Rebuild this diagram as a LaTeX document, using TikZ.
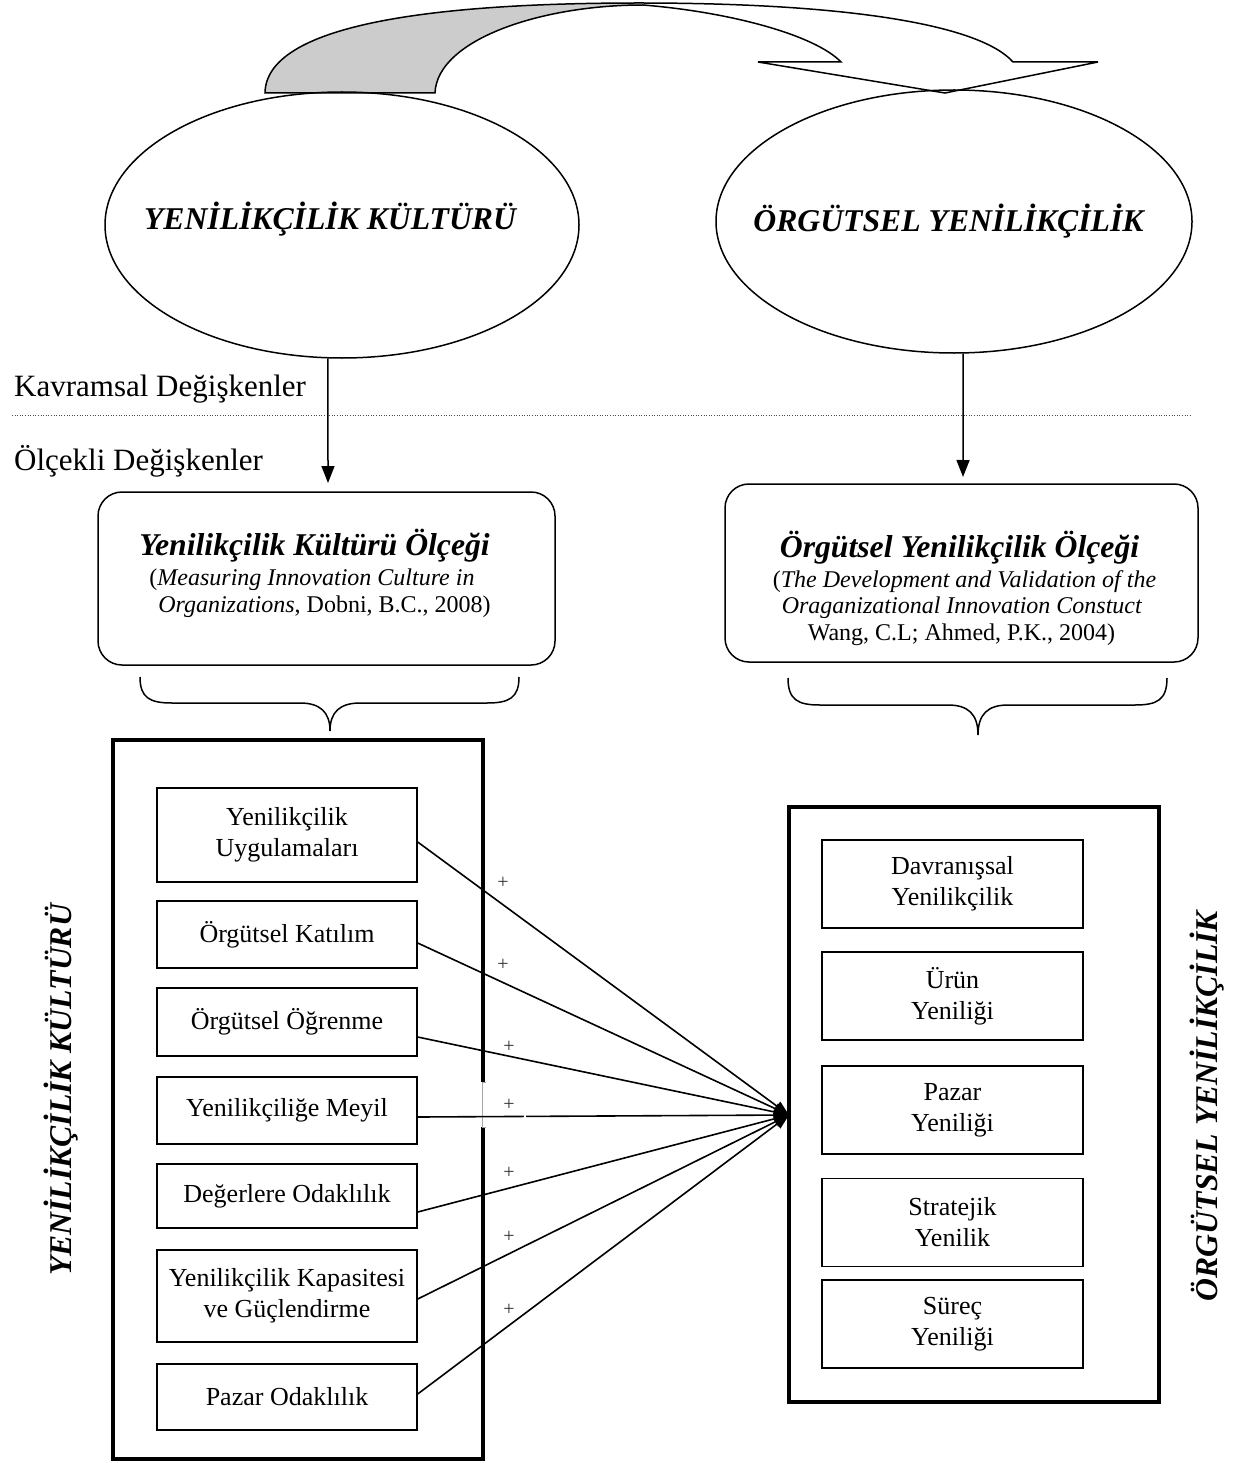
\documentclass[tikz,border=0pt]{standalone}
\usepackage{fontspec}
\setmainfont{Liberation Serif}
\usetikzlibrary{arrows.meta,shapes.geometric}
\begin{document}
\begin{tikzpicture}[x=1pt,y=-1pt,
  ell/.style={draw,ellipse,line width=1.5pt,inner sep=0pt},
  rbox/.style={draw,rounded corners=24pt,line width=1.5pt,inner sep=0pt},
  bigbox/.style={draw,line width=3.5pt,inner sep=0pt},
  item/.style={draw,line width=1.4pt,inner sep=0pt,minimum width=260pt,align=center,font=\fontsize{26}{31}\selectfont},
  conn/.style={line width=1.6pt,-{Triangle[width=11pt,length=15pt]}},
  down/.style={line width=1.5pt,-{Triangle[width=13pt,length=17pt]}},
  plus/.style={font=\fontsize{20}{20}\selectfont,text=black!80,inner sep=0pt},
  big/.style={font=\fontsize{31.7}{36}\selectfont\bfseries\itshape,inner sep=0pt},
  lbl/.style={font=\fontsize{31}{34}\selectfont,anchor=base west,inner sep=0pt},
  ttl/.style={font=\fontsize{31.7}{36}\selectfont\bfseries\itshape,anchor=base,inner sep=0pt},
  cite/.style={font=\fontsize{24}{27}\selectfont,anchor=base,inner sep=0pt},
  bracepath/.style={line width=1.5pt}
]
\useasboundingbox (0,0) rectangle (1236,1463);

% curved arrow on top
\fill[black!20] (265,93) .. controls (266,25) and (430,3) .. (639,3) -- (643,5) .. controls (540,5) and (437,40) .. (435,93) -- cycle;
\draw[line width=1.5pt,line join=miter] (265,93) .. controls (266,25) and (430,3) .. (639,3)
  .. controls (850,3) and (980,25) .. (1013,62) -- (1098,62) -- (945,93) -- (758,62) -- (841,62)
  .. controls (815,35) and (730,12) .. (643,5) .. controls (540,5) and (437,40) .. (435,93) -- cycle;

% ellipses
\node[ell,minimum width=474pt,minimum height=266pt] (e1) at (342,225) {};
\node[ell,minimum width=476pt,minimum height=263pt] (e2) at (954,221.5) {};
\node[big,anchor=base] (e1t) at (330,230) {YENİLİKÇİLİK KÜLTÜRÜ};
\node[big,anchor=base] (e2t) at (948.5,232) {ÖRGÜTSEL YENİLİKÇİLİK};

% level labels and separator
\node[lbl] (kav) at (14,396) {Kavramsal Değişkenler};
\node[lbl] (olc) at (14,470) {Ölçekli Değişkenler};
\coordinate (dotL) at (12,415);
\coordinate (dotR) at (1192,415);
\draw[line width=1pt,black!70,dash pattern=on 1pt off 1.6pt] (dotL) -- (dotR);

% down arrows
\coordinate (a1end) at (328,483);
\coordinate (a2end) at (963,477);
\draw[down] (e1.264) -- (a1end);
\draw[down] (e2.274) -- (a2end);

% rounded boxes
\node[rbox,minimum width=457pt,minimum height=173pt] (lbox) at (326.5,578.5) {};
\node[rbox,minimum width=473pt,minimum height=178pt] (rbox) at (961.5,573) {};
\node[ttl] (l1) at (314.5,555) {Yenilikçilik Kültürü Ölçeği};
\node[cite] (l2) at (312,585) {(\textit{Measuring Innovation Culture in}};
\node[cite] (l3) at (324.5,612) {\textit{Organizations}, Dobni, B.C., 2008)};
\node[ttl] (r1t) at (959.5,557) {Örgütsel Yenilikçilik Ölçeği};
\node[cite] (r2t) at (964.5,587) {(\textit{The Development and Validation of the}};
\node[cite] (r3t) at (962,613) {\textit{Oraganizational Innovation Constuct}};
\node[cite] (r4t) at (961.5,640) {Wang, C.L; Ahmed, P.K., 2004)};

% braces
\draw[bracepath] (140,677) .. controls (140,698) and (150,703) .. (172,703) -- (300,703)
  .. controls (320,703) and (330,712) .. (330,731) .. controls (330,712) and (340,703) .. (360,703)
  -- (487,703) .. controls (509,703) and (519,698) .. (519,677);
\draw[bracepath] (788,678) .. controls (788,700) and (798,705) .. (820,705) -- (948,705)
  .. controls (968,705) and (978,714) .. (978,735) .. controls (978,714) and (988,705) .. (1008,705)
  -- (1135,705) .. controls (1157,705) and (1167,700) .. (1167,678);

% big frames
\node[bigbox,minimum width=370pt,minimum height=719pt] (lbig) at (298,1099.5) {};
\node[bigbox,minimum width=370pt,minimum height=595pt] (rbig) at (974,1104.5) {};
\draw[white,line width=5pt] (483,1082) -- (483,1127);
\draw[black!35,line width=0.8pt] (486,1082) -- (482,1082) -- (482,1127) -- (486,1127);

% vertical titles
\node[big,rotate=90] (vl) at (61,1090) {YENİLİKÇİLİK KÜLTÜRÜ};
\node[big,rotate=90] (vr) at (1207,1106) {ÖRGÜTSEL YENİLİKÇİLİK};

% left items
\node[item,minimum height=94pt] (b1) at (287,835) {Yenilikçilik\\Uygulamaları};
\node[item,minimum height=67pt] (b2) at (287,934.5) {Örgütsel Katılım};
\node[item,minimum height=68pt] (b3) at (287,1022) {Örgütsel Öğrenme};
\node[item,minimum height=67pt] (b4) at (287,1110.5) {Yenilikçiliğe Meyil};
\node[item,minimum height=64pt] (b5) at (287,1196) {Değerlere Odaklılık};
\node[item,minimum height=92pt] (b6) at (287,1296) {Yenilikçilik Kapasitesi\\ve Güçlendirme};
\node[item,minimum height=66pt] (b7) at (287,1397) {Pazar Odaklılık};

% right items
\node[item,minimum width=261pt,minimum height=88pt] (r1) at (952.5,884) {Davranışsal\\Yenilikçilik};
\node[item,minimum width=261pt,minimum height=88pt] (r2) at (952.5,996) {Ürün\\Yeniliği};
\node[item,minimum width=261pt,minimum height=88pt] (r3) at (952.5,1110) {Pazar\\Yeniliği};
\node[item,minimum width=261pt,minimum height=88pt] (r4) at (952.5,1222.5) {Stratejik\\Yenilik};
\node[item,minimum width=261pt,minimum height=88pt] (r5) at (952.5,1324) {Süreç\\Yeniliği};

% connectors
\coordinate (tip) at (789,1115);
\draw[conn] ([yshift=-7pt]b1.east) -- (tip);
\draw[conn] ([yshift=-8.5pt]b2.east) -- (tip);
\draw[conn] ([yshift=-15pt]b3.east) -- (tip);
\draw[conn] ([yshift=-6.5pt]b4.east) -- (tip);
\draw[conn] ([yshift=-16pt]b5.east) -- (tip);
\draw[conn] ([yshift=-3pt]b6.east) -- (tip);
\draw[conn] ([yshift=3pt]b7.east) -- (tip);
\draw[white,line width=1.5pt] (525,1112) -- (525,1121);

% plus signs
\node[plus] (p1) at (503,883) {+};
\node[plus] (p2) at (503,965) {+};
\node[plus] (p3) at (509,1047) {+};
\node[plus] (p4) at (509,1105) {+};
\node[plus] (p5) at (509,1173) {+};
\node[plus] (p6) at (509,1237) {+};
\node[plus] (p7) at (509,1310) {+};
\end{tikzpicture}
\end{document}
